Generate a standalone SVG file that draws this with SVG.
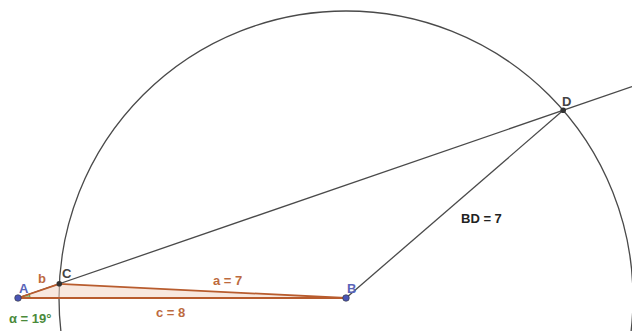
<svg xmlns="http://www.w3.org/2000/svg" width="632" height="331" viewBox="0 0 632 331">
<style>
.ln{stroke:#4a4a4a;stroke-width:1.3;fill:none}
.seg{stroke:#b85c2e;stroke-width:1.8;fill:none;stroke-linecap:round}
.lbl{font-family:"Liberation Sans",Arial,sans-serif;font-size:13px;font-weight:bold}
.brown{fill:#bd6a3e}
.blue{fill:#5a64b8}
.dark{fill:#444}
</style>
<rect width="632" height="331" fill="#fff"/>
<g id="connectors">
<circle class="ln" cx="346" cy="298" r="287"/>
<line class="ln" x1="18" y1="298" x2="632" y2="86.6"/>
<line class="ln" x1="346" y1="298" x2="563.2" y2="110.3"/>
</g>
<g id="triangle">
<polygon points="18,298 59.3,283.8 346,298" fill="#f2d6c4" fill-opacity="0.55" stroke="none"/>
<path d="M18,298 L30,298 A12,12 0 0 0 29.35,294.1 Z" fill="#3a8a2a" fill-opacity="0.45" stroke="#3a8a2a" stroke-width="0.8"/>
<line class="seg" x1="18" y1="298" x2="59.3" y2="283.8"/>
<line class="seg" x1="59.3" y1="283.8" x2="346" y2="298"/>
<line class="seg" x1="18" y1="298" x2="346" y2="298"/>
<text class="lbl brown" x="38" y="283">b</text>
<text class="lbl brown" x="213" y="285">a = 7</text>
<text class="lbl brown" x="156" y="317">c = 8</text>
<text class="lbl" x="9" y="323" fill="#4a8a3a">α = 19°</text>
</g>
<g id="A">
<circle cx="18" cy="298" r="3.3" fill="#4a55b5" stroke="#333" stroke-width="0.6"/>
<text class="lbl blue" x="19" y="293">A</text>
</g>
<g id="B">
<circle cx="346" cy="298" r="3.3" fill="#4a55b5" stroke="#333" stroke-width="0.6"/>
<text class="lbl blue" x="347" y="293">B</text>
</g>
<g id="C">
<circle cx="59.3" cy="283.8" r="2.8" fill="#333"/>
<text class="lbl dark" x="62" y="278">C</text>
</g>
<g id="D">
<circle cx="563.2" cy="110.3" r="2.8" fill="#333"/>
<text class="lbl dark" x="562" y="106">D</text>
</g>
<g id="BDlabel">
<text class="lbl" x="461" y="223" fill="#222">BD = 7</text>
</g>
</svg>
